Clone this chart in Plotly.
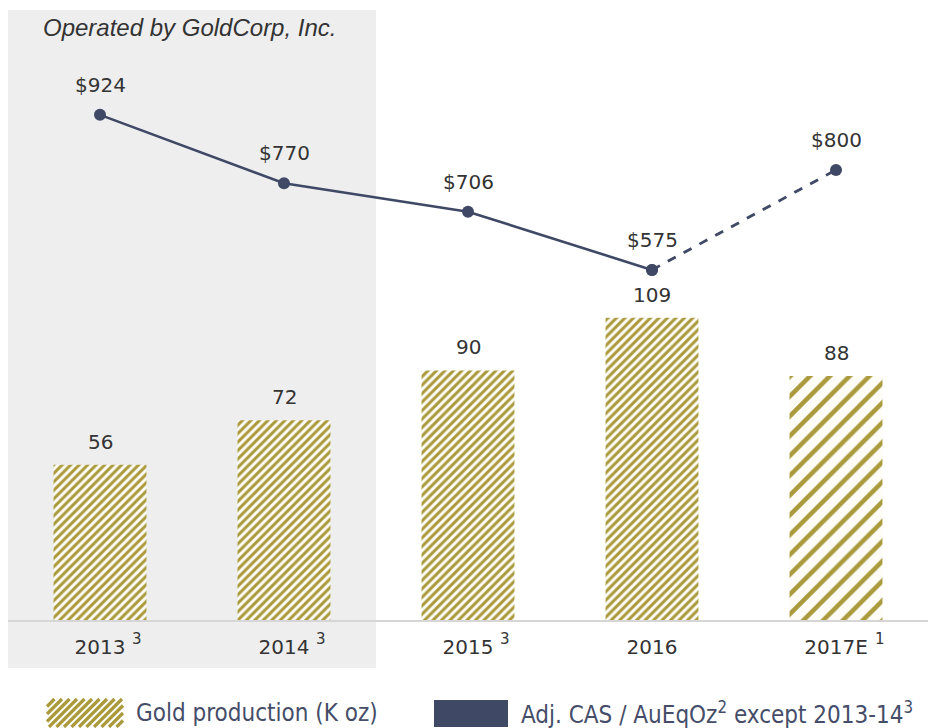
import plotly.graph_objects as go

# ---------------- data ----------------
categories = ["2013", "2014", "2015", "2016", "2017E"]
tick_labels = ["2013", "2014", "2015", "2016", "2017E"]
tick_notes = ["3", "3", "3", "", "1"]
gold_koz = [56, 72, 90, 109, 88]
adj_cas = [924, 770, 706, 575, 800]
shaded_categories = ["2013", "2014"]
title_text = "Operated by GoldCorp, Inc."
legend_bar = "Gold production (K oz)"
legend_line = "Adj. CAS / AuEqOz<sup>2</sup> except 2013-14<sup>3</sup>"

# ---------------- styles ----------------
GOLD = "#aa9a3c"
NAVY = "#3f4966"
TEXT = "#333333"
LEGEND_TEXT = "#454d68"
FONT = "DejaVu Sans"
LEGEND_FONT = "Liberation Sans Narrow, DejaVu Sans Condensed, Liberation Sans"

# page is offset by the browser's 8px body margin
OFF = 8
PAGE_W, PAGE_H = 939, 728
W, H = PAGE_W - OFF, PAGE_H - OFF
PLOT_L, PLOT_R, PLOT_T, PLOT_B = 8, 928, 10, 620  # page pixels
ML, MR, MT, MB = PLOT_L - OFF, PAGE_W - PLOT_R, PLOT_T - OFF, PAGE_H - PLOT_B
PW, PH = PLOT_R - PLOT_L, PLOT_B - PLOT_T


def px_x(px):
    return (px - PLOT_L) / PW


def px_y(py):
    return (PLOT_B - py) / PH


fig = go.Figure()

# bars
fig.add_trace(go.Bar(
    x=categories, y=gold_koz, name=legend_bar,
    marker=dict(
        color="#fdfcf6",
        line=dict(width=0),
        pattern=dict(shape="/", fgcolor=GOLD, bgcolor="#fdfcf6",
                     size=[6, 6, 6, 6, 14],
                     solidity=[0.5, 0.5, 0.5, 0.5, 0.32],
                     fillmode="replace"),
    ),
    width=0.505, showlegend=False, yaxis="y",
))

# line: actual (solid) and estimate (dashed)
fig.add_trace(go.Scatter(
    x=categories[:4], y=adj_cas[:4], mode="lines+markers", yaxis="y2",
    line=dict(color=NAVY, width=2.6), marker=dict(size=12, color=NAVY),
    showlegend=False,
))
fig.add_trace(go.Scatter(
    x=categories[3:], y=adj_cas[3:], mode="lines+markers", yaxis="y2",
    line=dict(color=NAVY, width=2.8, dash="dash"), marker=dict(size=12, color=NAVY),
    showlegend=False,
))

annotations = []
for i, v in enumerate(gold_koz):
    annotations.append(dict(x=i, y=v, xref="x", yref="y", text=str(v), showarrow=False,
                            yshift=23, font=dict(family=FONT, size=20, color=TEXT)))
for i, v in enumerate(adj_cas):
    annotations.append(dict(x=i, y=v, xref="x", yref="y2", text=f"${v}", showarrow=False,
                            yshift=30, font=dict(family=FONT, size=20, color=TEXT)))

# footnote superscripts next to the tick labels
for i, (lab, note) in enumerate(zip(tick_labels, tick_notes)):
    if note:
        annotations.append(dict(x=i, y=px_y(639), xref="x", yref="paper", text=note,
                                showarrow=False, xshift=len(lab) * 6.5 + 11,
                                yanchor="middle",
                                font=dict(family=FONT, size=15, color=TEXT)))

# title in shaded area
annotations.append(dict(x=px_x(41), y=px_y(28), xref="paper", yref="paper", xanchor="left",
                        yanchor="middle", text=f"<i>{title_text}</i>", showarrow=False,
                        font=dict(family="Liberation Sans", size=24, color=TEXT)))

# legend texts
annotations.append(dict(x=px_x(134), y=px_y(713), xref="paper", yref="paper", xanchor="left",
                        yanchor="middle", text=legend_bar, showarrow=False,
                        font=dict(family=LEGEND_FONT, size=24, color=LEGEND_TEXT)))
annotations.append(dict(x=px_x(519), y=px_y(713), xref="paper", yref="paper", xanchor="left",
                        yanchor="middle", text=legend_line, showarrow=False,
                        font=dict(family=LEGEND_FONT, size=24, color=LEGEND_TEXT)))

shapes = [
    dict(type="rect", xref="x", yref="paper", x0=-0.5,
         x1=categories.index(shaded_categories[-1]) + 0.5,
         y0=px_y(668), y1=1.0, fillcolor="#eeeeee", line=dict(width=0), layer="below"),
    # legend line swatch
    dict(type="rect", xref="paper", yref="paper", x0=px_x(434), x1=px_x(508),
         y0=px_y(727), y1=px_y(700), fillcolor=NAVY, line=dict(width=0)),
]


# hatched legend swatch for bars
def clip(x0, y0, x1, y1, xmin, xmax, ymin, ymax):
    t0, t1 = 0.0, 1.0
    dx, dy = x1 - x0, y1 - y0
    for p, q in ((-dx, x0 - xmin), (dx, xmax - x0), (-dy, y0 - ymin), (dy, ymax - y0)):
        if p == 0:
            if q < 0:
                return None
        else:
            t = q / p
            if p < 0:
                t0 = max(t0, t)
            else:
                t1 = min(t1, t)
    if t0 > t1:
        return None
    return (x0 + t0 * dx, y0 + t0 * dy, x0 + t1 * dx, y0 + t1 * dy)


sx0, sx1, sy0, sy1 = 47, 123, 699, 727
hh = sy1 - sy0
segs = []
a = sx0 - hh
while a < sx1:
    seg = clip(a, sy1, a + hh, sy0, sx0, sx1, sy0, sy1)
    if seg:
        segs.append(f"M{px_x(seg[0]):.5f},{px_y(seg[1]):.5f} L{px_x(seg[2]):.5f},{px_y(seg[3]):.5f}")
    a += 7.5
shapes.append(dict(type="path", xref="paper", yref="paper", path=" ".join(segs),
                   line=dict(color=GOLD, width=3.2)))

fig.update_layout(
    width=W, height=H,
    margin=dict(l=ML, r=MR, t=MT, b=MB, pad=0),
    paper_bgcolor="white", plot_bgcolor="rgba(0,0,0,0)",
    xaxis=dict(type="category", categoryorder="array", categoryarray=categories,
               range=[-0.5, len(categories) - 0.5],
               tickmode="array", tickvals=categories, ticktext=tick_labels,
               ticks="outside", ticklen=8, tickcolor="rgba(0,0,0,0)",
               showline=True, linecolor="#d6d6d6", linewidth=1.5,
               showgrid=False, zeroline=False,
               tickfont=dict(family=FONT, size=20, color=TEXT)),
    yaxis=dict(range=[0, 220], visible=False, showgrid=False, zeroline=False),
    yaxis2=dict(range=[-213, 1160], overlaying="y", visible=False, showgrid=False, zeroline=False),
    shapes=shapes, annotations=annotations,
    showlegend=False,
)

fig.write_html("out.html")
